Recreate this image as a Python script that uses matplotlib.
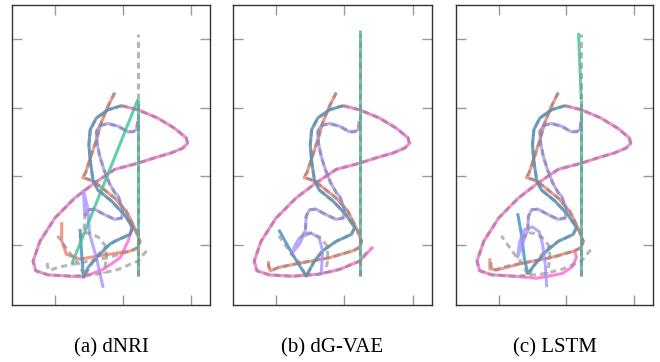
import matplotlib
matplotlib.use("Agg")
import matplotlib.pyplot as plt

# ---------------- data (plot units: tick spacing = 1) ----------------
captions = ["(a) dNRI", "(b) dG-VAE", "(c) LSTM"]
x_ticks = [-1, 0, 1]
y_ticks = [0, 1, 2, 3]

# ground truth trajectories (shared by all panels)
teal_gt_x = [0.22, 0.22, 0.22, 0.22, 0.22]
teal_gt_y = [-0.45, 0.5, 1.3, 2.12, 3.08]
teal_hist_n = 4

pink_gt_x = [-0.02, 0.22, 0.51, 0.76, 0.93, 0.95, 0.88, 0.71, 0.47, 0.22, -0.12, -0.42, -0.71,
             -1.00, -1.22, -1.32, -1.28, -1.10, -0.76, -0.37, -0.07, 0.22, 0.38]
pink_gt_y = [2.03, 1.97, 1.85, 1.70, 1.56, 1.48, 1.41, 1.34, 1.27, 1.19, 1.10, 0.90, 0.68,
             0.39, 0.05, -0.24, -0.38, -0.44, -0.46, -0.43, -0.36, -0.24, -0.05]
pink_hist_n = 19

blue_gt_x = [-0.02, -0.22, -0.39, -0.48, -0.50, -0.48, -0.44, -0.37, -0.17, 0.02, 0.15, 0.10,
             -0.12, -0.32, -0.44, -0.56, -0.66, -0.75, -0.86, -0.96]
blue_gt_y = [2.03, 1.97, 1.85, 1.68, 1.46, 1.22, 0.95, 0.80, 0.64, 0.44, 0.25, 0.15,
             0.05, -0.09, -0.24, -0.46, -0.26, -0.16, -0.01, 0.13]
blue_hist_n = 13

red_gt_x = [-0.12, -0.22, -0.32, -0.39, -0.47, -0.55, -0.59, -0.49, -0.37, -0.12, 0.05, 0.17,
            0.25, 0.22, 0.12, -0.22, -0.61, -0.96, -1.08, -1.11, -1.11]
red_gt_y = [2.22, 2.02, 1.78, 1.53, 1.29, 1.05, 0.98, 0.95, 0.88, 0.68, 0.49, 0.25,
            0.05, -0.04, -0.09, -0.19, -0.26, -0.33, -0.38, -0.31, -0.24]
red_hist_n = 15

purple_gt_x = [0.22, 0.20, 0.15, 0.07, -0.07, -0.22, -0.34, -0.39, -0.38, -0.34, -0.28, -0.20,
               -0.12, -0.07, 0.00, -0.02, -0.12, -0.27, -0.42, -0.51, -0.56, -0.57,
               -0.63, -0.55, -0.49, -0.36, -0.26, -0.24, -0.28]
purple_gt_y = [1.80, 1.68, 1.65, 1.65, 1.73, 1.77, 1.74, 1.65, 1.48, 1.29, 1.10, 0.90,
               0.76, 0.71, 0.51, 0.39, 0.37, 0.44, 0.52, 0.51, 0.42, 0.22,
               0.11, 0.17, 0.17, 0.11, -0.01, -0.19, -0.42]
purple_hist_n = 21

# predictions per panel (continuing from the end of the history)
teal_pred_x = [[0.22, -0.75], [0.22, 0.22, 0.22], [0.22, 0.20, 0.18]]
teal_pred_y = [[2.12, -0.28], [2.12, 2.7, 3.14], [2.12, 2.6, 3.09]]

pink_pred_x = [[-0.76, -0.58, -0.29, -0.04, 0.08, 0.13, 0.10, 0.07],
               [-0.76, -0.37, -0.07, 0.22, 0.42],
               [-0.76, -0.44, -0.06, 0.09, 0.15, 0.12]]
pink_pred_y = [[-0.46, -0.47, -0.36, -0.19, 0.06, 0.23, 0.35, 0.42],
               [-0.46, -0.43, -0.36, -0.24, -0.03],
               [-0.46, -0.49, -0.42, -0.32, -0.18, -0.08]]

blue_pred_x = [[-0.12, -0.19, -0.39, -0.51, -0.58, -0.61, -0.63],
               [-0.12, -0.32, -0.44, -0.56, -0.76, -0.96],
               [-0.12, -0.30, -0.45, -0.57, -0.62, -0.67, -0.72]]
blue_pred_y = [[0.05, 0.01, -0.19, -0.33, -0.47, -0.09, 0.23],
               [0.05, -0.09, -0.24, -0.46, -0.14, 0.22],
               [0.05, -0.10, -0.27, -0.42, -0.20, 0.19, 0.46]]

red_pred_x = [[0.12, -0.34, -0.63, -0.83, -0.90, -0.90],
              [0.12, -0.22, -0.61, -0.96, -1.08, -1.11, -1.11],
              [0.12, -0.20, -0.69, -1.03, -1.13, -1.13]]
red_pred_y = [[-0.09, -0.16, -0.21, -0.14, 0.06, 0.33],
              [-0.09, -0.19, -0.26, -0.33, -0.38, -0.31, -0.24],
              [-0.09, -0.18, -0.28, -0.37, -0.35, -0.20]]

purple_pred_x = [[-0.56, -0.58, -0.52, -0.49, -0.39, -0.29],
                 [-0.56, -0.57, -0.65, -0.78, -0.72, -0.66, -0.49, -0.37, -0.32, -0.34],
                 [-0.56, -0.57, -0.65, -0.72, -0.69, -0.62, -0.50, -0.40, -0.35, -0.31, -0.29]]
purple_pred_y = [[0.42, 0.79, 0.55, 0.16, -0.19, -0.63],
                 [0.42, 0.22, 0.02, -0.14, 0.00, 0.10, 0.17, 0.10, -0.09, -0.43],
                 [0.42, 0.22, 0.00, -0.18, 0.04, 0.22, 0.26, 0.19, 0.00, -0.30, -0.62]]

colors = {"teal": "#40c198", "blue": "#3a8ec2", "purple": "#a892ff",
          "red": "#f27c6b", "pink": "#ff66d0"}
objects = [
    ("pink", pink_gt_x, pink_gt_y, pink_hist_n, pink_pred_x, pink_pred_y),
    ("red", red_gt_x, red_gt_y, red_hist_n, red_pred_x, red_pred_y),
    ("blue", blue_gt_x, blue_gt_y, blue_hist_n, blue_pred_x, blue_pred_y),
    ("purple", purple_gt_x, purple_gt_y, purple_hist_n, purple_pred_x, purple_pred_y),
    ("teal", teal_gt_x, teal_gt_y, teal_hist_n, teal_pred_x, teal_pred_y),
]

# ---------------- figure ----------------
fig = plt.figure(figsize=(6.6, 3.62), dpi=100)
W, H = 660, 362
boxes = [(12, 198), (233, 199), (456, 197)]
top_px, bot_px = 5, 305

for k, (left, width) in enumerate(boxes):
    ax = fig.add_axes([left / W, (H - bot_px) / H, width / W, (bot_px - top_px) / H])
    for name, gx, gy, hn, px, py in objects:
        c = colors[name]
        ax.plot(gx[:hn], gy[:hn], color=c, lw=2.2, alpha=0.8, solid_capstyle="butt",
                solid_joinstyle="round", zorder=2)
        ax.plot(px[k], py[k], color=c, lw=2.2, alpha=0.8, solid_capstyle="butt",
                solid_joinstyle="round", zorder=2)
    for name, gx, gy, hn, px, py in objects:
        ax.plot(gx, gy, color="#888888", lw=2.2, alpha=0.6, dashes=(2.0, 1.4), zorder=3)
    ax.set_xlim(-1.63, 1.28)
    ax.set_ylim(-0.88, 3.5)
    ax.set_xticks(x_ticks)
    ax.set_yticks(y_ticks)
    ax.tick_params(direction="in", length=7, width=1.0, color="#999999",
                   top=True, right=True, labelbottom=False, labelleft=False)
    for s in ax.spines.values():
        s.set_color("#333333")
        s.set_linewidth(1.0)
    fig.text((left + width / 2) / W, 1 - 348 / H, captions[k], ha="center", va="center",
             fontsize=15, family="Liberation Serif")

fig.savefig("out.png", dpi=100)
